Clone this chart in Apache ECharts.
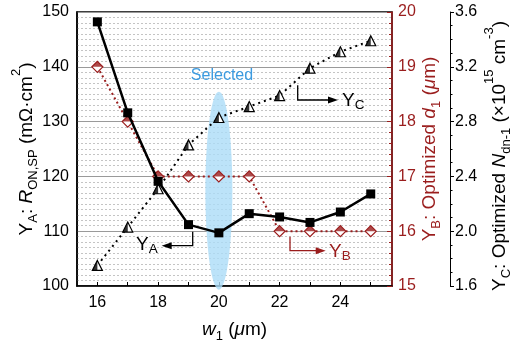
<!DOCTYPE html>
<html><head><meta charset="utf-8">
<script src="https://cdn.jsdelivr.net/npm/echarts@6/dist/echarts.min.js"></script>
<style>html,body{margin:0;padding:0;background:#fff}#c{width:517px;height:347px}</style>
</head><body><div id="c"></div>
<script>
const w1 = [16, 17, 18, 19, 20, 21, 22, 23, 24, 25];
const yA = [148.2, 131.6, 119.1, 111.2, 109.7, 113.2, 112.6, 111.6, 113.5, 116.8];
const yB = [19, 18, 17, 17, 17, 17, 16, 16, 16, 16];
const yC = [1.75, 2.03, 2.31, 2.63, 2.83, 2.91, 2.99, 3.19, 3.31, 3.39];
const xTicks = [16, 17, 18, 19, 20, 21, 22, 23, 24, 25];
const xLabels = [16, 18, 20, 22, 24];
const selected = [[20, 117.4]];

const RED = '#9a1d1d';
const FONT = 'Liberation Sans, Arial, sans-serif';
const pair = (xs, ys) => xs.map((x, i) => [x, ys[i]]);

const chart = echarts.init(document.getElementById('c'));
const L = 34;
const base = (c) => ({fontSize: 19, fontFamily: FONT, color: c, lineHeight: L});
const ital = (c) => ({fontSize: 19, fontFamily: FONT, color: c, fontStyle: 'italic', lineHeight: L});
const sub = (c) => ({fontSize: 13, fontFamily: FONT, color: c, verticalAlign: 'bottom', height: 21.5, lineHeight: 10});
const sup = (c) => ({fontSize: 13, fontFamily: FONT, color: c, verticalAlign: 'top', height: 13, lineHeight: 10});

function arrow(points, color) {
  const n = points.length;
  const [x1, y1] = points[n - 2], [x2, y2] = points[n - 1];
  const dir = Math.sign(x2 - x1);
  return [
    {type: 'polyline', shape: {points: points.map((p, i) => i === n - 1 ? [p[0] - dir * 6, p[1]] : p)}, style: {stroke: color, lineWidth: 1.3, fill: null}, z: 100},
    {type: 'polygon', shape: {points: [[x2, y2], [x2 - dir * 10, y2 - 3.5], [x2 - dir * 10, y2 + 3.5]]}, style: {fill: color}, z: 100}
  ];
}
function label(x, y, letter, color) {
  return {type: 'text', x: x, y: y, z: 100, style: {
    text: '{b|Y}{s|' + letter + '}', fill: color,
    rich: {b: {fontSize: 19, fontFamily: FONT, fill: color, lineHeight: 30}, s: {fontSize: 13.5, fontFamily: FONT, fill: color, verticalAlign: 'bottom', height: 21, lineHeight: 10}}
  }};
}

const option = {
  animation: false,
  grid: {left: 77, right: 125, top: 12, bottom: 61, outerBoundsMode: 'none', containLabel: false, show: true, borderColor: '#000', borderWidth: 1.5, backgroundColor: 'transparent'},
  xAxis: {
    type: 'value', min: 15.33, max: 25.7,
    name: '{i|w}{s|1}{n| (}{i|μ}{n|m)}', nameLocation: 'middle', nameGap: 27, nameMoveOverlap: false,
    nameTextStyle: {rich: {i: ital('#000'), s: sub('#000'), n: base('#000')}},
    axisLine: {show: true, lineStyle: {color: '#000', width: 1.5}},
    axisTick: {show: true, inside: true, length: 4, customValues: xTicks, lineStyle: {color: '#000'}},
    axisLabel: {customValues: xLabels, fontSize: 16, fontFamily: FONT, color: '#000', margin: 9},
    splitLine: {show: false}
  },
  yAxis: [
    {
      type: 'value', min: 100, max: 150, interval: 10, position: 'left',
      name: '{n|Y}{s|A}{n|: }{i|R}{s|ON,SP}{n| (mΩ·cm}{p|2}{n|)}', nameLocation: 'middle', nameGap: 33, nameRotate: 90, nameMoveOverlap: false,
      nameTextStyle: {rich: {i: ital('#000'), s: sub('#000'), n: base('#000'), p: sup('#000')}},
      axisLine: {show: true, lineStyle: {color: '#000', width: 1.5}},
      axisTick: {show: false},
      axisLabel: {fontSize: 16, fontFamily: FONT, color: '#000', margin: 8},
      splitLine: {show: true, lineStyle: {color: '#9a9a9a', width: 1}},
      minorTick: {show: false, splitNumber: 10},
      minorSplitLine: {show: true, lineStyle: {color: '#c4c4c4', width: 1, type: [2, 2]}}
    },
    {
      type: 'value', min: 15, max: 20, interval: 1, position: 'right',
      name: '{n|Y}{s|B}{n|: Optimized }{i|d}{s|1}{n| (}{i|μ}{n|m)}', nameLocation: 'middle', nameGap: 21, nameRotate: 90, nameMoveOverlap: false,
      nameTextStyle: {rich: {i: ital(RED), s: sub(RED), n: base(RED)}},
      axisLine: {show: true, lineStyle: {color: RED, width: 1.5}},
      axisTick: {show: true, inside: true, length: 5, lineStyle: {color: RED}},
      minorTick: {show: true, splitNumber: 5, length: 3, lineStyle: {color: RED}},
      axisLabel: {fontSize: 16, fontFamily: FONT, color: RED, margin: 6},
      splitLine: {show: false}
    },
    {
      type: 'value', min: 1.6, max: 3.6, interval: 0.4, position: 'right', offset: 58,
      name: '{n|Y}{s|C}{n|: Optimized }{i|N}{s|dn-1}{n| (×10}{p|15}{n| cm}{p|-3}{n|)}', nameLocation: 'middle', nameGap: 33, nameRotate: 90, nameMoveOverlap: false,
      nameTextStyle: {padding: [0, 14, 0, 0], rich: {i: ital('#000'), s: sub('#000'), n: base('#000'), p: sup('#000')}},
      axisLine: {show: true, lineStyle: {color: '#000', width: 1}},
      axisTick: {show: true, inside: false, length: 4, lineStyle: {color: '#000'}},
      minorTick: {show: true, splitNumber: 4, length: 2.5, lineStyle: {color: '#000'}},
      axisLabel: {fontSize: 16, fontFamily: FONT, color: '#000', margin: 5, formatter: v => v.toFixed(1)},
      splitLine: {show: false}
    }
  ],
  series: [
    {type: 'scatter', yAxisIndex: 0, data: selected, symbol: 'circle', symbolSize: [27, 198], itemStyle: {color: '#abdcf8'}, z: 1, silent: true},
    {type: 'line', yAxisIndex: 2, data: pair(w1, yC), symbol: 'triangle', symbolSize: 10,
     lineStyle: {color: '#000', width: 2, type: [2, 4]}, itemStyle: {color: '#fff', borderColor: '#000', borderWidth: 1.2}, z: 3},
    {type: 'scatter', yAxisIndex: 2, data: pair(w1, yC), symbol: 'path://M5 0 L0 10 L5 10 Z M10 0 L10 0', symbolSize: 10,
     itemStyle: {color: '#000'}, z: 4},
    {type: 'line', yAxisIndex: 1, data: pair(w1, yB), symbol: 'diamond', symbolSize: 11,
     lineStyle: {color: RED, width: 2, type: [2, 3]}, itemStyle: {color: '#fff', borderColor: RED, borderWidth: 1.2}, z: 5},
    {type: 'scatter', yAxisIndex: 1, data: pair(w1, yB), symbol: 'path://M0 5 L5 0 L10 5 Z M0 10 L0 10', symbolSize: 11,
     itemStyle: {color: RED}, z: 6},
    {type: 'line', yAxisIndex: 0, data: pair(w1, yA), symbol: 'rect', symbolSize: 9,
     lineStyle: {color: '#000', width: 2.5}, itemStyle: {color: '#000'}, z: 7}
  ],
  graphic: [
    {type: 'text', x: 222, y: 76, z: 100, style: {text: 'Selected', fontSize: 16, fontFamily: FONT, fill: '#3c9be0', align: 'center', verticalAlign: 'middle'}},
    ...arrow([[192.7, 231.7], [192.7, 245.7], [161.7, 245.7]], '#000'),
    label(136, 230, 'A', '#000'),
    ...arrow([[297.7, 85.3], [297.7, 100], [338, 100]], '#000'),
    label(342, 86, 'C', '#000'),
    ...arrow([[290, 236.7], [290, 250.7], [325.7, 250.7]], RED),
    label(329, 237, 'B', RED)
  ]
};
chart.setOption(option);
</script></body></html>
